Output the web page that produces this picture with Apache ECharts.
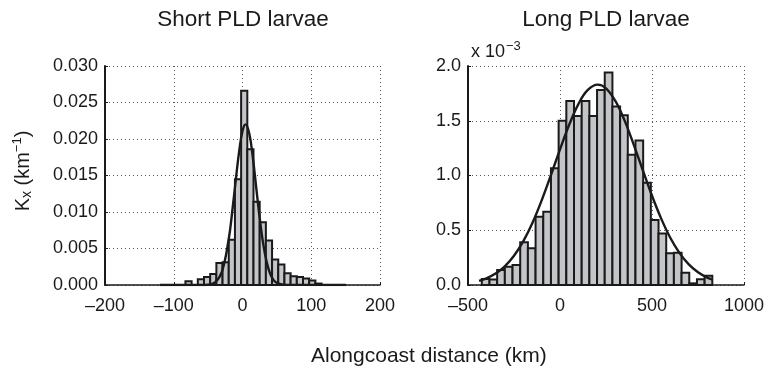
<!DOCTYPE html>
<html><head><meta charset="utf-8">
<script src="https://cdn.jsdelivr.net/npm/echarts@6/dist/echarts.min.js"></script>
<style>html,body{margin:0;padding:0;background:#fff}#c{width:773px;height:374px}</style>
</head><body><div id="c"></div>
<script>
// ---- Data ----
const shortBinStart = -119;   // km, left edge of first bin
const shortBinWidth = 9;      // km
const shortValues = [0,0,0,0,0.0005,0,0.0008,0.0011,0.0015,0.0030,0.0031,0.0062,0.0145,0.0266,0.0186,0.0114,0.0086,0.0061,0.0035,0.0028,0.0016,0.0012,0.0011,0.0009,0.0006,0.0002,0,0,0,0];
const shortCurveX = [-120,-60,-50,-40,-30,-20,-15,-10,-5,0,4.5,10,15,20,25,30,35,40,45,50,60,150];
const shortCurveY = [0,0,0.00004,0.00036,0.0018,0.0063,0.0100,0.0142,0.0182,0.0211,0.0220,0.0207,0.0175,0.0133,0.0092,0.0057,0.0032,0.0016,0.0007,0.0003,0.00004,0];

const longBinStart = -425;    // km
const longBinWidth = 41.76;   // km
const longValues = [0.055,0.05,0.137,0.167,0.183,0.39,0.335,0.624,0.67,1.066,1.5,1.68,1.543,1.68,1.543,1.78,1.94,1.63,1.55,1.19,1.32,0.934,0.594,0.47,0.29,0.295,0.112,0.015,0.052,0.085]; // x 10^-3
const longCurveX = [-440,-400,-350,-300,-250,-200,-150,-100,-50,0,50,100,150,205,250,300,350,400,450,500,550,600,650,700,750,800,830];
const longCurveY = [0.038,0.061,0.105,0.171,0.267,0.399,0.567,0.771,1.000,1.239,1.464,1.652,1.779,1.830,1.796,1.683,1.506,1.285,1.048,0.815,0.606,0.429,0.291,0.188,0.116,0.068,0.049]; // x 10^-3

const shortXTicks = [-200,-100,0,100,200];
const longXTicks = [-500,0,500,1000];

// ---- Chart ----
const FONT = '"Liberation Sans", Arial, Helvetica, sans-serif';
const INK = '#1a1a1a';
const chart = echarts.init(document.getElementById('c'), null, {renderer:'canvas'});

function bins(start, w, vals){ return vals.map((v,i)=>[start+i*w, start+(i+1)*w, v]); }
function barItem(params, api){
  const p0 = api.coord([api.value(0), api.value(2)]);
  const p1 = api.coord([api.value(1), 0]);
  return {type:'rect', shape:{x:p0[0], y:p0[1], width:p1[0]-p0[0], height:p1[1]-p0[1]},
          style:{fill:'#c3c5c9', stroke:INK, lineWidth:2}};
}
const minus = v => v < 0 ? '\u2013' + Math.abs(v) : String(v);
function xAxis(idx, min, max, interval){
  return {type:'value', gridIndex:idx, min, max, interval,
    axisLine:{show:true, onZero:false, lineStyle:{color:INK, width:1.5}},
    axisTick:{show:true, inside:true, length:3, lineStyle:{color:INK}},
    axisLabel:{formatter:minus, color:INK, fontSize:18, fontFamily:FONT, margin:12},
    splitLine:{show:true, lineStyle:{type:[1,3], color:'#555', width:1}}};
}
function yAxis(idx, min, max, interval, dec){
  return {type:'value', gridIndex:idx, min, max, interval,
    axisLine:{show:true, onZero:false, lineStyle:{color:INK, width:2}},
    axisTick:{show:true, inside:true, length:3, lineStyle:{color:INK}},
    axisLabel:{formatter:v=>v.toFixed(dec), color:INK, fontSize:18, fontFamily:FONT, margin:7},
    splitLine:{show:true, lineStyle:{type:[1,3], color:'#555', width:1}}};
}

const option = {
  animation:false,
  backgroundColor:'#fff',
  grid:[{left:105, top:66, width:275, height:219}, {left:468, top:66, width:276, height:219}],
  xAxis:[xAxis(0,shortXTicks[0],shortXTicks[shortXTicks.length-1],100), xAxis(1,longXTicks[0],longXTicks[longXTicks.length-1],500)],
  yAxis:[yAxis(0,0,0.03,0.005,3), yAxis(1,0,2.0,0.5,1)],
  series:[
    {type:'custom', xAxisIndex:0, yAxisIndex:0, renderItem:barItem, encode:{x:[0,1], y:2},
     data:bins(shortBinStart, shortBinWidth, shortValues), z:2},
    {type:'line', xAxisIndex:0, yAxisIndex:0, smooth:0.4, showSymbol:false,
     lineStyle:{color:INK, width:2.4}, data:shortCurveX.map((x,i)=>[x, shortCurveY[i]]), z:3},
    {type:'custom', xAxisIndex:1, yAxisIndex:1, renderItem:barItem, encode:{x:[0,1], y:2},
     data:bins(longBinStart, longBinWidth, longValues), z:2},
    {type:'line', xAxisIndex:1, yAxisIndex:1, smooth:0.4, showSymbol:false,
     lineStyle:{color:INK, width:2.4}, data:longCurveX.map((x,i)=>[x, longCurveY[i]]), z:3}
  ],
  graphic:[
    {type:'text', x:243, y:20, style:{text:'Short PLD larvae', fill:INK, font:'22.5px '+FONT, align:'center', verticalAlign:'middle'}},
    {type:'text', x:606, y:20, style:{text:'Long PLD larvae', fill:INK, font:'22.5px '+FONT, align:'center', verticalAlign:'middle'}},
    {type:'text', x:471, y:52, style:{text:'{b|x 10}{s|\u22123}', align:'left', verticalAlign:'middle',
      rich:{b:{fontSize:18, fontFamily:FONT, fill:INK, color:INK}, s:{fontSize:13, fontFamily:FONT, fill:INK, color:INK, padding:[0,0,12,1]}}}},
    {type:'text', x:23, y:171, rotation:Math.PI/2, style:{text:'{b|K}{s|x}{b| (km}{p|\u22121}{b|)}', align:'center', verticalAlign:'middle',
      rich:{b:{fontSize:20, fontFamily:FONT, fill:INK, color:INK}, s:{fontSize:14, fontFamily:FONT, fill:INK, color:INK, padding:[8,0,0,0]}, p:{fontSize:13, fontFamily:FONT, fill:INK, color:INK, padding:[0,0,11,0]}}}},
    {type:'text', x:311, y:356, style:{text:'Alongcoast distance (km)', fill:INK, font:'21px '+FONT, align:'left', verticalAlign:'middle'}}
  ]
};
chart.setOption(option);
</script></body></html>
